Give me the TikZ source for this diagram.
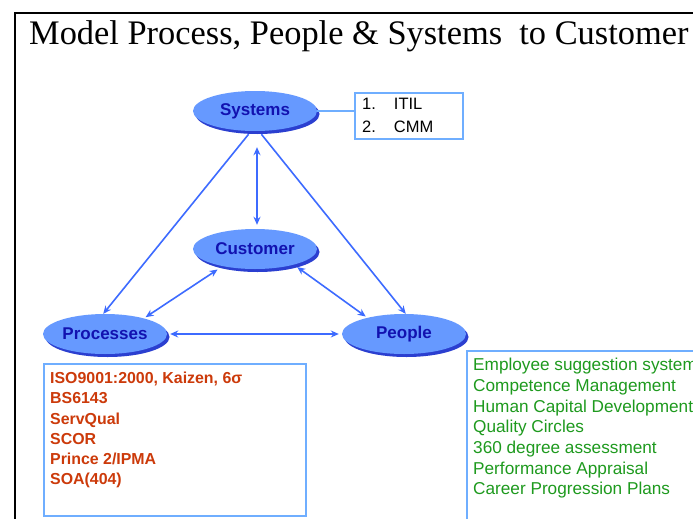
\documentclass[tikz,border=0pt]{standalone}
\usepackage{fontspec}
\setmainfont{Liberation Serif}
\setsansfont{Liberation Sans}
\usetikzlibrary{shapes.geometric,arrows.meta}
\definecolor{ovalfill}{HTML}{6699FF}
\definecolor{ovalshade}{HTML}{2B3FD0}
\definecolor{ovaltext}{HTML}{1212B0}
\definecolor{linkblue}{HTML}{3D6BFF}
\definecolor{boxedge}{HTML}{6FAEFF}
\definecolor{stdred}{HTML}{CC3A0A}
\definecolor{hrgreen}{HTML}{1E9A1E}
\tikzset{
  oval/.style={ellipse, fill=ovalfill, minimum width=124pt, minimum height=40pt,
    inner sep=0pt, text=ovaltext, font=\sffamily\bfseries\fontsize{17}{19}\selectfont,
    preaction={fill=ovalshade, transform canvas={xshift=2.5pt, yshift=-3pt}}},
  link/.style={draw=linkblue, line width=1.6pt,
    {Stealth[length=8pt,width=7pt]}-{Stealth[length=8pt,width=7pt]}},
  onehead/.style={draw=linkblue, line width=1.6pt, -{Stealth[length=8pt,width=7pt]}},
  infobox/.style={draw=boxedge, line width=1.6pt, anchor=north west, inner sep=0pt},
}
\begin{document}
\begin{tikzpicture}[x=1pt, y=-1pt]
\useasboundingbox (0,0) rectangle (693,519);
\clip (0,0) rectangle (693,519);
\fill[white] (0,0) rectangle (693,519);

% page frame
\draw[line width=2pt, black] (15,530) -- (15,13) -- (700,13);

% heading
\node[anchor=west, font=\fontsize{34.4}{38}\selectfont, inner sep=0pt] (title) at (29,36)
  {Model Process, People \& Systems\ \ to Customer};

% four ovals
\node[oval] (sys)  at (255,111) {Systems};
\node[oval] (cust) at (255,249) {Customer};
\node[oval] (proc) at (105,334) {Processes};
\node[oval] (ppl)  at (404,334) {People};

% reference list box beside Systems
\node[infobox, minimum width=108pt, minimum height=46pt] (itil) at (354,92) {};
\node[anchor=west, font=\sffamily\fontsize{16.5}{18}\selectfont, inner sep=0pt] (it1) at (362,104) {1.\hspace{18pt}ITIL};
\node[anchor=west, font=\sffamily\fontsize{16.5}{18}\selectfont, inner sep=0pt] (it2) at (362,127) {2.\hspace{18pt}CMM};
\draw[draw=boxedge, line width=1.6pt] (sys.east) -- (itil.west |- sys.east);

% standards box under Processes
\node[infobox, minimum width=262pt, minimum height=152pt] (pbox) at (43,363) {};
\node[anchor=north west, inner sep=0pt, align=left, text=stdred,
      font=\sffamily\bfseries\fontsize{15.9}{20.2}\selectfont] (ptext) at (50,372)
  {ISO9001:2000, Kaizen, 6σ\\BS6143\\ServQual\\SCOR\\Prince 2/IPMA\\SOA(404)};

% practices box under People
\node[infobox, minimum width=260pt, minimum height=190pt] (hbox) at (466,350) {};
\node[anchor=north west, inner sep=0pt, align=left, text=hrgreen,
      font=\sffamily\fontsize{17.2}{20.7}\selectfont] (htext) at (473,358)
  {Employee suggestion system\\Competence Management\\Human Capital Development\\Quality Circles\\360 degree assessment\\Performance Appraisal\\Career Progression Plans};

% connectors
\draw[onehead, shorten <=4pt] (sys.259) -- (proc.95);
\draw[onehead, shorten <=4pt] (sys.281) -- (ppl.85);
\draw[link, shorten <=16pt, shorten >=4pt] ([xshift=2pt]sys.south) -- ([xshift=2pt]cust.north);
\draw[link, shorten <=6pt, shorten >=2pt] (cust.208) -- (proc.22);
\draw[link, shorten <=4pt, shorten >=2pt] (cust.338) -- (ppl.156);
\draw[link, shorten <=3pt, shorten >=3pt] (proc.east) -- (ppl.west);
\end{tikzpicture}
\end{document}
